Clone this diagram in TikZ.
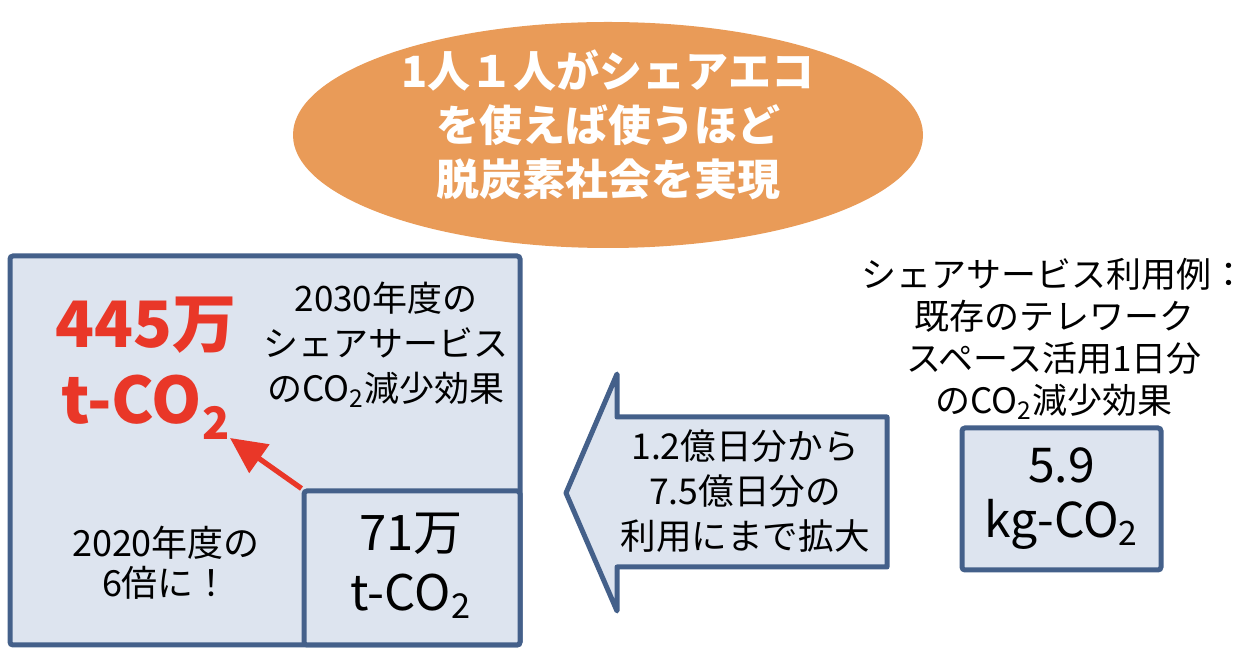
\documentclass[tikz,border=0pt]{standalone}
\usepackage{fontspec}
\setmainfont{Noto Sans CJK JP}
\usetikzlibrary{arrows.meta,shapes.geometric}

\definecolor{frameblue}{RGB}{68,96,138}
\definecolor{panelfill}{RGB}{221,228,239}
\definecolor{ecoorange}{RGB}{233,155,88}
\definecolor{hotred}{RGB}{233,55,40}

\newcommand{\fsz}[2]{\fontsize{#1}{#2}\selectfont}

\begin{document}
\begin{tikzpicture}[
  x=0.5pt,
  y=-0.5pt,
  line/.style={draw=frameblue,line width=2.5pt},
  panel/.style={line,fill=panelfill,rounded corners=1.5pt,inner sep=0pt},
  txt/.style={align=center,inner sep=0pt,text=black},
  redarrow/.style={draw=hotred,line width=2.6pt,-{Triangle[length=18pt,width=17pt]}}
]
\useasboundingbox (0,0) rectangle (1255,656);

% ---------------------------------------------------------------- title ellipse
\node[ellipse,fill=ecoorange,minimum width=315pt,minimum height=113pt,inner sep=0pt] (title) at (608,135) {};
\node[txt,text=white,font=\bfseries\fsz{21.5}{27}] (titletext) at (608,125)
  {1人１人がシェアエコ\\を使えば使うほど\\脱炭素社会を実現};

% ---------------------------------------------------------------- 2030 total panel
\node[panel,minimum width=255pt,minimum height=194.5pt] (total) at (265,450.5) {};
\node[panel,minimum width=108pt,minimum height=77pt] (base) at (412,568) {};

\node[txt,text=hotred,font=\bfseries\fsz{32}{38}] (goal) at (146,368)
  {445万\\t-CO\textsubscript{2}};
\node[txt,font=\fsz{17.5}{22.5}] (goalnote) at (386,345)
  {2030年度の\\シェアサービス\\のCO\textsubscript{2}減少効果};
\node[txt,font=\fsz{18}{20}] (ratio) at (166,563)
  {2020年度の\\6倍に！};
\node[txt,font=\fsz{24.5}{30}] (basenum) at (411,566)
  {71万\\t-CO\textsubscript{2}};

\coordinate (corner) at (base.north west);
\coordinate (goaltip) at (230,438);
\draw[redarrow] (corner) -- (goaltip);

% ---------------------------------------------------------------- expansion arrow
\draw[line,fill=panelfill,line join=round] (566,493) -- (617,374) -- (617,417) -- (887,417)
  -- (887,567) -- (617,567) -- (617,611) -- cycle;
\node[txt,font=\fsz{17.8}{22.5}] (expand) at (745,491)
  {1.2億日分から\\7.5億日分の\\利用にまで拡大};

% ---------------------------------------------------------------- per-day example
\node[txt,font=\fsz{17.5}{21}] (example) at (1054,339)
  {シェアサービス利用例：\\既存のテレワーク\\スペース活用1日分\\のCO\textsubscript{2}減少効果};
\node[panel,minimum width=99.5pt,minimum height=71pt] (perday) at (1061.5,499) {};
\node[txt,font=\fsz{24}{27.5}] (perdaytext) at (perday.center)
  {5.9\\kg-CO\textsubscript{2}};

\end{tikzpicture}
\end{document}
